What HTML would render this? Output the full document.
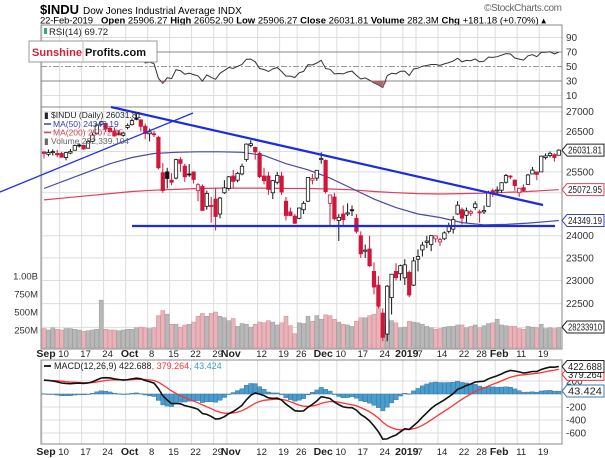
<!DOCTYPE html>
<html><head><meta charset="utf-8"><style>
html,body{margin:0;padding:0;background:#fff;}
svg{display:block;font-family:"Liberation Sans",sans-serif;}
</style></head><body>
<svg id="chart" width="605" height="458" viewBox="0 0 605 458" xmlns="http://www.w3.org/2000/svg">
<g id="header">
<text x="40" y="14" font-size="13" font-weight="bold">$INDU</text>
<text x="83" y="14" font-size="10">Dow Jones Industrial Average INDX</text>
<text x="484" y="11" font-size="10" fill="#666" textLength="78">©StockCharts.com</text>
<text x="40" y="23.5" font-size="9.5" textLength="53">22-Feb-2019</text>
<text x="101" y="23.5" font-size="9.5"><tspan font-weight="bold">Open</tspan> 25906.27 <tspan font-weight="bold">High</tspan> 26052.90 <tspan font-weight="bold">Low</tspan> 25906.27 <tspan font-weight="bold">Close</tspan> 26031.81 <tspan font-weight="bold">Volume</tspan> 282.3M <tspan font-weight="bold">Chg</tspan> +181.18 (+0.70%) ▴</text>
</g>
<g id="grid"></g>
<g id="panels"></g>
<g id="marks"></g>
<g id="overlay"></g>
</svg>
<script>
// ---- data ----
const dateLabels = ["Sep","10","17","24","Oct","8","15","22","29","Nov","12","19","26","Dec","10","17","24","2019","7","14","22","28","Feb","11","19"];
const dateLabelIdx = [0,4,9,14,19,24,29,34,39,42,49,54,58,63,67,72,77,82,85,90,95,99,103,108,113];
const priorCloses = [24174,24307,24456,24776,24919,24700,24924,25019,25064,25119,25199,25064,25058,25044,25306,25241,25414,25527,25451,25306,25415,25333,25463,25462,25628,25313,25502,25583,25509,25187,25299,25162,25669,25558,25669,25758,25822,25733,25656,25790,26049,26064,26124,25986,25965];
const opens = [25990,25930,25990,25950,25950,25850,25960,26030,26160,26150,26080,26250,26440,26680,26700,26580,26510,26420,26400,
26600,26670,26830,26790,26630,26440,26440,26350,25480,25500,25300,25350,25800,25640,25450,25500,25050,25150,24680,24700,24850,24500,25000,
25100,25400,25300,25450,25800,26150,26100,25950,25400,25400,25000,25250,25400,24800,24550,24450,24400,24600,24800,25300,25350,
25800,25780,24750,24900,24350,24500,24500,24600,24400,24000,23650,23700,23200,22900,22300,21860,22630,23200,23150,
23060,23180,22900,23470,23680,23850,23800,23930,23860,23930,24100,24150,24500,24600,24470,24520,24650,24550,24550,24680,25050,
25050,25060,25250,25400,25300,25000,25120,25200,25450,25500,25500,25850,25900,25920,25906];
const highs = [26000,26050,26050,26040,25990,25990,26060,26170,26200,26170,26290,26470,26700,26770,26710,26640,26600,26530,26490,
26700,26830,26950,26810,26700,26570,26520,26390,25710,25600,25470,25820,25860,25700,25690,25510,25230,25200,25050,24900,25110,24900,25300,
25400,25550,25500,25700,26200,26280,26120,26000,25600,25500,25300,25500,25500,24900,24650,24500,24650,24800,25370,25450,25540,
25980,25800,24950,25000,24500,24700,24750,24700,24500,24100,23800,24000,23400,23100,22400,22900,23140,23380,23350,
23470,23220,23520,23690,23860,24000,24010,24000,23950,24100,24300,24450,24800,24650,24650,24600,24800,24600,24700,25050,25100,
25150,25250,25450,25420,25320,25120,25200,25450,25620,25500,25900,25950,26000,25950,26053];
const lows = [25830,25880,25900,25860,25850,25780,25930,26020,26100,26040,26070,26240,26430,26650,26480,26480,26370,26400,26370,
26550,26650,26780,26500,26300,26250,26360,25560,25000,25100,25180,25320,25500,25260,25380,25220,24800,24580,24600,24300,24120,24400,24970,
25050,25100,25250,25420,25750,26100,25800,25350,25200,24950,24850,25200,24950,24350,24450,24270,24380,24500,24780,25200,25280,
25700,24980,24250,24350,23880,24250,24450,24450,24050,23500,23500,23300,22700,22400,21713,21710,22270,23000,23000,
22900,22640,22880,23200,23530,23720,23650,23850,23770,23900,24050,24050,24480,24260,24300,24450,24600,24300,24500,24680,24900,
24950,25000,25220,25330,25050,24900,25030,25190,25450,25300,25500,25800,25850,25750,25906];
const closes = [25952,25974,25995,25917,25857,25971,25998,26145,26154,26062,26246,26405,26657,26743,26562,26492,26385,26440,26458,
26651,26774,26828,26627,26447,26487,26430,25599,25053,25340,25250,25798,25706,25380,25444,25317,25191,24583,24985,24689,24443,24875,25116,
25381,25271,25462,25636,26181,26191,25989,25387,25287,25080,25289,25413,25018,24466,24465,24286,24640,24749,25366,25339,25538,
25826,25027,24947,24389,24423,24370,24527,24597,24101,23592,23675,23324,22859,22445,21792,22878,23139,23062,23327,
23346,22686,23433,23531,23787,23879,24001,23996,23910,24065,24207,24370,24706,24404,24575,24553,24737,24528,24580,25014,24999,
25064,25239,25411,25390,25169,25106,25053,25425,25543,25439,25883,25891,25954,25850,26031.81];
const volumesM = [270,250,280,260,250,270,270,260,250,230,240,250,260,665,260,250,250,240,250,
260,260,280,290,280,270,280,450,520,470,330,330,290,320,330,360,440,480,440,480,500,440,420,
380,410,300,340,330,290,330,360,350,380,360,320,350,440,310,200,350,340,440,370,450,
400,460,450,400,360,330,320,300,370,420,420,450,470,560,300,400,380,350,280,
290,370,360,350,330,300,280,260,270,290,300,300,320,320,280,300,320,280,310,340,350,
400,320,310,300,300,270,260,300,290,280,330,270,280,270,282];
const maIdx = [0,5,10,15,20,25,30,35,40,45,50,55,60,65,70,75,80,85,90,95,100,105,110,115,117];
const ma50 = [25100,25300,25500,25700,25850,25950,25980,25990,25990,25980,25900,25700,25550,25350,25100,24850,24650,24500,24420,24300,24250,24260,24290,24330,24349];
const ma200 = [24830,24880,24930,24980,25030,25060,25080,25100,25110,25110,25110,25100,25100,25090,25070,25030,25000,24980,24970,24980,24990,25010,25030,25060,25073];
const priceTicks = [27000,26500,26000,25500,25000,24500,24000,23500,23000,22500,22000];
const priceTickLabels = ["27000","26500","","25500","","","24000","23500","23000","22500",""];
const volTicks = [1000,750,500,250];
const volTickLabels = ["1.00B","750M","500M","250M"];
const rsiTicks = [90,70,50,30,10];
const macdTicks = [200,-200,-400,-600];

// ---- axes ----
const L=41, R=562;
const X = i => 44 + i*4.4;
const PY = p => 111.7 + 1053*Math.log(27000/p);
const VY = v => 348 - v*0.072;
const RY = r => 81 - (r-30)*0.725;
const MY = m => 394 - m*0.065;

const NS="http://www.w3.org/2000/svg";
function mk(parent, tag, attrs){const e=document.createElementNS(NS,tag);for(const k in attrs)e.setAttribute(k,attrs[k]);parent.appendChild(e);return e;}
const gGrid=document.getElementById('grid'), gPan=document.getElementById('panels'), gMarks=document.getElementById('marks'), gOver=document.getElementById('overlay');

const panelDefs=[["rsi-panel",25,107],["price-panel",107,349],["macd-panel",360,444]];
panelDefs.forEach(p=>{
  const r=mk(gPan,'rect',{x:L,y:p[1],width:R-L,height:p[2]-p[1],fill:'none',stroke:'#888','stroke-width':1});
  
  
});
dateLabelIdx.forEach(i=>{
  [[25,107],[107,349],[360,444]].forEach(s=>{
    const ln=mk(gGrid,'line',{x1:X(i)-2,x2:X(i)-2,y1:s[0],y2:s[1],stroke:'#ddd','stroke-width':1});
    
    
  });
});
priceTicks.forEach((p,k)=>{
  const y=PY(p);
  const ln=mk(gGrid,'line',{x1:L,x2:R,y1:y,y2:y,stroke:'#ddd','stroke-width':1});
  
  
  if(priceTickLabels[k]){const t=mk(gGrid,'text',{x:566,y:y+3.5,'font-size':10,fill:'#333'});t.textContent=priceTickLabels[k];
  
  }
});
volTicks.forEach((v,k)=>{
  const t=mk(gGrid,'text',{x:38,y:VY(v)+3.5,'font-size':9.5,'text-anchor':'end',fill:'#333'});t.textContent=volTickLabels[k];
  
  
});
rsiTicks.forEach(r=>{
  const y=RY(r);
  const attrs={x1:L,x2:R,y1:y,y2:y,stroke:(r==70||r==30)?'#888':(r==50?'#999':'#ddd'),'stroke-width':1};
  if(r==50)attrs['stroke-dasharray']='6,2,2,2';
  const ln=mk(gGrid,'line',attrs);
  
  
  const t=mk(gGrid,'text',{x:566,y:y+3.5,'font-size':10,fill:'#333'});t.textContent=String(r);
  
  
});
[200,0,-200,-400,-600].forEach(m=>{
  const ln=mk(gGrid,'line',{x1:L,x2:R,y1:MY(m),y2:MY(m),stroke:'#ddd','stroke-width':1});
  
  
});
macdTicks.forEach(m=>{
  const t=mk(gGrid,'text',{x:566,y:MY(m)+3.5,'font-size':10,fill:'#333'});t.textContent=String(m);
  
  
});
[354,452].forEach(yy=>{
  dateLabels.forEach((s,k)=>{
    const bold=isNaN(+s)||s=="2019";
    const t=mk(gGrid,'text',{x:X(dateLabelIdx[k])+2,y:yy+3,'font-size':bold?10.5:9.5,'font-weight':bold?'bold':'normal','text-anchor':'middle',fill:'#222'});
    t.textContent=s;
    
    
  });
});

closes.forEach((c,i)=>{
  const prev=i?closes[i-1]:priorCloses[priorCloses.length-1];
  const down=c<prev;
  const y=VY(volumesM[i]);
  const b=mk(gMarks,'rect',{x:X(i)-2,y:y,width:4,height:348-y,fill:down?'#e9b3ba':'#b8b8b8',stroke:down?'#d08a94':'#999','stroke-width':0.5});
  
  
});
function maPath(arr,color,name){
  const d=arr.map((v,k)=>(k?'L':'M')+X(maIdx[k]).toFixed(1)+','+PY(v).toFixed(1)).join(' ');
  const p=mk(gMarks,'path',{d:d,fill:'none',stroke:color,'stroke-width':1.2});
  
  
}
maPath(ma200,'#d9445a','ma200-line');
maPath(ma50,'#4a4aa8','ma50-line');
closes.forEach((c,i)=>{
  const o=opens[i],prev=i?closes[i-1]:priorCloses[priorCloses.length-1];
  const col=c<prev?'#d0163a':'#111';
  const x=X(i);
  const w=mk(gMarks,'line',{x1:x,x2:x,y1:PY(highs[i]),y2:PY(lows[i]),stroke:col,'stroke-width':1});
  
  
  const top=PY(Math.max(o,c)),bot=PY(Math.min(o,c));
  const b=mk(gMarks,'rect',{x:x-1.7,y:top,width:3.4,height:Math.max(1,bot-top),fill:c>o?'#fff':col,stroke:col,'stroke-width':0.8});
  
  
});

const allC=priorCloses.concat(closes);
let ag=0,al=0;const n=14;
for(let k=1;k<=n;k++){const d=allC[k]-allC[k-1];if(d>0)ag+=d;else al-=d;}
ag/=n;al/=n;
const rsi=[];
for(let k=n+1;k<allC.length;k++){const d=allC[k]-allC[k-1];ag=(ag*(n-1)+Math.max(d,0))/n;al=(al*(n-1)+Math.max(-d,0))/n;
  if(k>=priorCloses.length)rsi.push(100-100/(1+ag/al));}
const rsiPath=mk(gMarks,'path',{d:rsi.map((v,i)=>(i?'L':'M')+X(i).toFixed(1)+','+RY(v).toFixed(1)).join(' '),fill:'none',stroke:'#333','stroke-width':1});


rsi.forEach((v,i)=>{ if(v<30 && i>0){
  const f=mk(gMarks,'polygon',{points:`${X(i-1)},${RY(Math.min(30,rsi[i-1]))} ${X(i)},${RY(v)} ${X(i+1)},${RY(Math.min(30,rsi[i+1]||30))} ${X(i+1)},${RY(30)} ${X(i-1)},${RY(30)}`,fill:'#a85a5a',opacity:0.7});
  
  
}});

function ema(arr,p){const a=2/(p+1);const out=[];let e=arr[0];arr.forEach(v=>{e=a*v+(1-a)*e;out.push(e);});return out;}
const e12=ema(allC,12),e26=ema(allC,26);
const macdAll=e12.map((v,k)=>v-e26[k]);
const sigAll=ema(macdAll,9);
const off=priorCloses.length;
const macd=macdAll.slice(off),sig=sigAll.slice(off);
macd.forEach((m,i)=>{
  const h=m-sig[i];const y0=MY(0),y1=MY(h);
  const b=mk(gMarks,'rect',{x:X(i)-2.2,y:Math.min(y0,y1),width:4.4,height:Math.max(0.5,Math.abs(y1-y0)),fill:'#4a9ccc',stroke:'#2e6f96','stroke-width':0.4});
  
  
});
const sigPath=mk(gMarks,'path',{d:sig.map((v,i)=>(i?'L':'M')+X(i).toFixed(1)+','+MY(v).toFixed(1)).join(' '),fill:'none',stroke:'#f33','stroke-width':1.3});


const macdPath=mk(gMarks,'path',{d:macd.map((v,i)=>(i?'L':'M')+X(i).toFixed(1)+','+MY(v).toFixed(1)).join(' '),fill:'none',stroke:'#111','stroke-width':1.6});



const t1=mk(gOver,'line',{x1:0,y1:192,x2:193,y2:113,stroke:'#2233ee','stroke-width':1.3});


const t2=mk(gOver,'line',{x1:111,y1:107,x2:543,y2:205,stroke:'#1a2be6','stroke-width':2.2});


const t3=mk(gOver,'line',{x1:132,y1:226,x2:555,y2:226,stroke:'#1a2be6','stroke-width':2.2});



function tag(y,txt,color,name){
  const g=mk(gOver,'g',{});
  
  
  mk(g,'polygon',{points:`562,${y} 567,${y-6} 604,${y-6} 604,${y+6} 567,${y+6}`,fill:'#fff',stroke:color,'stroke-width':1});
  const t=mk(g,'text',{x:568,y:y+3.5,'font-size':10,fill:'#222',textLength:34,lengthAdjust:'spacingAndGlyphs'});t.textContent=txt;
}
tag(PY(26031.81),'26031.81','#222','close-value-tag');
tag(PY(25072.95),'25072.95','#d9445a','ma200-value-tag');
tag(PY(24349.19),'24349.19','#3344cc','ma50-value-tag');
tag(327,'28233910','#222','volume-value-tag');
tag(MY(379.264)+5,'379.264','#f33','signal-value-tag');
tag(MY(422.688),'422.688','#222','macd-value-tag');
tag(391,'43.424','#3a7ab0','histogram-value-tag');
</script>
<svg x="0" y="0" width="605" height="458" style="position:absolute;left:0;top:0">
<g font-family="Liberation Sans, sans-serif">
<rect x="44" y="28" width="3" height="6" fill="#3a7"/>
<text x="49" y="35" font-size="9.5" fill="#222">RSI(14) 69.72</text>
<g>
<rect x="29" y="41" width="128" height="21" fill="#fff" stroke="#999" stroke-width="1"/>
<text x="32" y="56" font-size="11" font-weight="bold" fill="#d0203a" textLength="50">Sunshine</text>
<line x1="83" y1="42" x2="83" y2="61" stroke="#bbb"/>
<text x="85" y="56" font-size="11" font-weight="bold" fill="#111" textLength="61">Profits.com</text>
</g>
<g font-size="8.5">
<text x="44" y="118" fill="#222">▮ $INDU (Daily) 26031.81</text>
<line x1="44" y1="124" x2="51" y2="124" stroke="#3344aa" stroke-width="1.5"/>
<text x="53" y="127" fill="#3344aa">MA(50) 24349.19</text>
<line x1="44" y1="132.5" x2="51" y2="132.5" stroke="#d9445a" stroke-width="1.5"/>
<text x="53" y="135.5" fill="#d9445a">MA(200) 25072.95</text>
<text x="44" y="144" fill="#666">▮ Volume 282,339,104</text>
</g>
<g font-size="9">
<line x1="44" y1="366" x2="51" y2="366" stroke="#111" stroke-width="1.8"/>
<text x="54" y="369" fill="#222">MACD(12,26,9) 422.688<tspan fill="#f33">, 379.264</tspan><tspan fill="#3a9ad0">, 43.424</tspan></text>
</g>
</g>
</svg>
</body></html>
